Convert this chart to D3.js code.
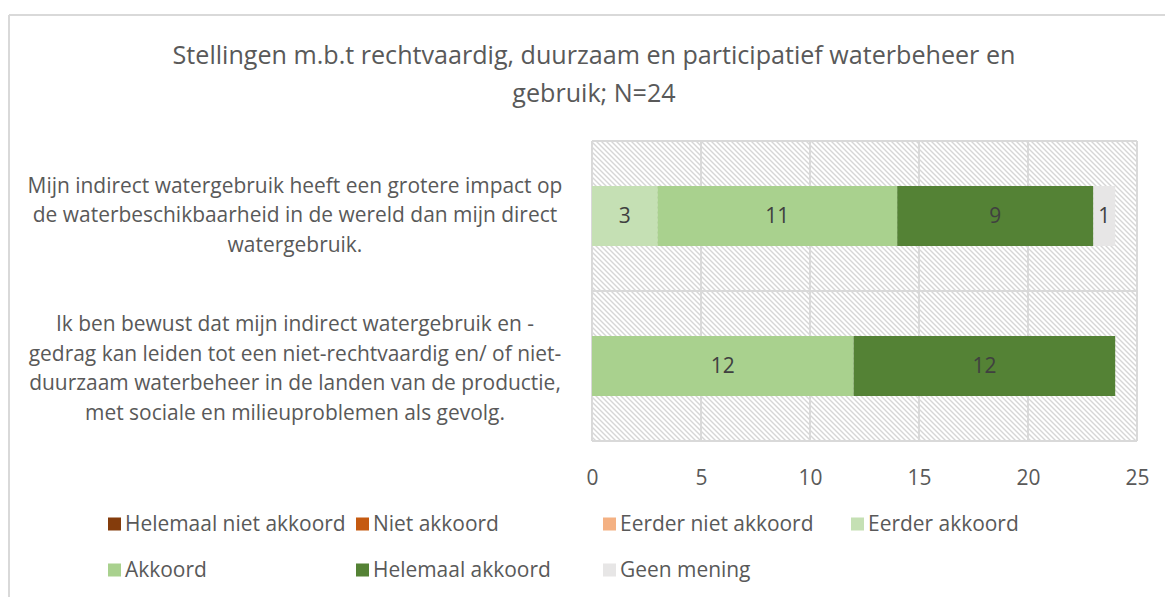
<!DOCTYPE html>
<html>
<head>
<meta charset="utf-8">
<script src="https://cdn.jsdelivr.net/npm/d3@7"></script>
<style>
  body { margin: 0; background: #fff; }
  svg text { font-family: "Open Sans", Lato, sans-serif; }
</style>
</head>
<body>
<div id="chart"></div>
<script>
// data
var questions = [
  ["Mijn indirect watergebruik heeft een grotere impact op", "de waterbeschikbaarheid in de wereld dan mijn direct", "watergebruik."],
  ["Ik ben bewust dat mijn indirect watergebruik en -", "gedrag kan leiden tot een niet-rechtvaardig en/ of niet-", "duurzaam waterbeheer in de landen van de productie,", "met sociale en milieuproblemen als gevolg."]
];
var seriesNames = ["Helemaal niet akkoord", "Niet akkoord", "Eerder niet akkoord", "Eerder akkoord", "Akkoord", "Helemaal akkoord", "Geen mening"];
var seriesColors = ["#843c0c", "#c55a11", "#f4b183", "#c5e0b4", "#a9d18e", "#548235", "#e7e6e6"];
var helemaalNiet = [0, 0];
var niet = [0, 0];
var eerderNiet = [0, 0];
var eerder = [3, 0];
var akkoord = [11, 12];
var helemaal = [9, 12];
var geenMening = [1, 0];
var xTicks = [0, 5, 10, 15, 20, 25];
var titleLines = ["Stellingen m.b.t rechtvaardig, duurzaam en participatief waterbeheer en", "gebruik; N=24"];

var W = 1165, H = 597;
var plot = {left: 592, right: 1137, top: 141, bottom: 441};
var svg = d3.select("#chart").append("svg").attr("width", W).attr("height", H);

// pick font sizes so text widths match the original (Calibri is narrow)
function fitSize(str, target){
  var t = svg.append("text").attr("font-size", 20).text(str);
  var w = t.node().getComputedTextLength();
  t.remove();
  return 20 * target / w;
}
var bodySize = fitSize(questions[0][0], 535);
var titleSize = fitSize(titleLines[0], 843);

// outer frame (only top and left visible)
svg.append("line").attr("x1", 9).attr("x2", W).attr("y1", 15).attr("y2", 15)
  .attr("stroke", "#d9d9d9").attr("stroke-width", 2);
svg.append("line").attr("x1", 9).attr("x2", 9).attr("y1", 15).attr("y2", H)
  .attr("stroke", "#d9d9d9").attr("stroke-width", 2);

// hatch
var defs = svg.append("defs");
var pat = defs.append("pattern").attr("id", "hatch").attr("patternUnits", "userSpaceOnUse")
  .attr("width", 5).attr("height", 5);
pat.append("rect").attr("width", 5).attr("height", 5).attr("fill", "#fff");
pat.append("path").attr("d", "M-1,-1 L6,6 M-1,4 L1,6 M4,-1 L6,1")
  .attr("stroke", "#d6d6d6").attr("stroke-width", 1.4);

var x = d3.scaleLinear().domain([0, 25]).range([plot.left, plot.right]);
var y = d3.scaleBand().domain([0, 1]).range([plot.top, plot.bottom]).paddingInner(0).paddingOuter(0);

svg.append("rect").attr("x", plot.left).attr("y", plot.top)
  .attr("width", plot.right - plot.left).attr("height", plot.bottom - plot.top)
  .attr("fill", "url(#hatch)");

// gridlines
svg.selectAll(".grid").data(xTicks).enter().append("line")
  .attr("x1", function(d){ return x(d); }).attr("x2", function(d){ return x(d); })
  .attr("y1", plot.top).attr("y2", plot.bottom)
  .attr("stroke", "#d9d9d9").attr("stroke-width", 2);
[plot.top, y(1), plot.bottom].forEach(function(yy){
  svg.append("line").attr("x1", plot.left).attr("x2", plot.right).attr("y1", yy).attr("y2", yy)
    .attr("stroke", "#d9d9d9").attr("stroke-width", 2);
});

// stacked bars
var table = [0, 1].map(function(i){
  return {q: i, s0: helemaalNiet[i], s1: niet[i], s2: eerderNiet[i], s3: eerder[i], s4: akkoord[i], s5: helemaal[i], s6: geenMening[i]};
});
var keys = ["s0", "s1", "s2", "s3", "s4", "s5", "s6"];
var stacked = d3.stack().keys(keys)(table);
var barH = 60;

var layers = svg.selectAll(".layer").data(stacked).enter().append("g")
  .attr("fill", function(d, i){ return seriesColors[i]; });
layers.selectAll("rect").data(function(d){ return d; }).enter().append("rect")
  .attr("x", function(d){ return x(d[0]); })
  .attr("width", function(d){ return x(d[1]) - x(d[0]); })
  .attr("y", function(d){ return y(d.data.q) + y.bandwidth() / 2 - barH / 2; })
  .attr("height", barH);
layers.selectAll("text").data(function(d){ return d.filter(function(v){ return v[1] - v[0] > 0; }); })
  .enter().append("text")
  .attr("x", function(d){ return (x(d[0]) + x(d[1])) / 2; })
  .attr("y", function(d){ return y(d.data.q) + y.bandwidth() / 2; })
  .attr("dy", "0.35em").attr("text-anchor", "middle")
  .attr("fill", "#404040").attr("font-size", bodySize)
  .text(function(d){ return d[1] - d[0]; });

// x axis labels
var axis = d3.axisBottom(x).tickValues(xTicks).tickSize(0).tickPadding(0);
var ax = svg.append("g").attr("transform", "translate(0," + 470 + ")").call(axis);
ax.select(".domain").remove();
ax.selectAll("text").attr("font-size", bodySize).attr("fill", "#595959")
  .style("font-family", "'Open Sans', Lato, sans-serif");

// category labels
var labelCenters = [215, 368];
questions.forEach(function(lines, i){
  var t = svg.append("text").attr("text-anchor", "middle").attr("font-size", bodySize).attr("fill", "#595959");
  var y0 = labelCenters[i] - (lines.length - 1) * 29.5 / 2;
  lines.forEach(function(l, j){
    t.append("tspan").attr("x", 295).attr("y", y0 + j * 29.5).attr("dy", "0.35em").text(l);
  });
});

// title
var title = svg.append("text").attr("text-anchor", "middle").attr("font-size", titleSize).attr("fill", "#595959");
titleLines.forEach(function(l, j){
  title.append("tspan").attr("x", 594).attr("y", 55 + j * 38).attr("dy", "0.35em").text(l);
});

// legend
var legendPos = [[108, 524], [356, 524], [603, 524], [851, 524], [108, 570], [356, 570], [603, 570]];
var lg = svg.selectAll(".legend").data(seriesNames).enter().append("g")
  .attr("transform", function(d, i){ return "translate(" + legendPos[i][0] + "," + legendPos[i][1] + ")"; });
lg.append("rect").attr("x", 0).attr("y", -6.5).attr("width", 13).attr("height", 13)
  .attr("fill", function(d, i){ return seriesColors[i]; });
lg.append("text").attr("x", 17).attr("dy", "0.35em").attr("font-size", bodySize).attr("fill", "#595959")
  .text(function(d){ return d; });
</script>
</body>
</html>
